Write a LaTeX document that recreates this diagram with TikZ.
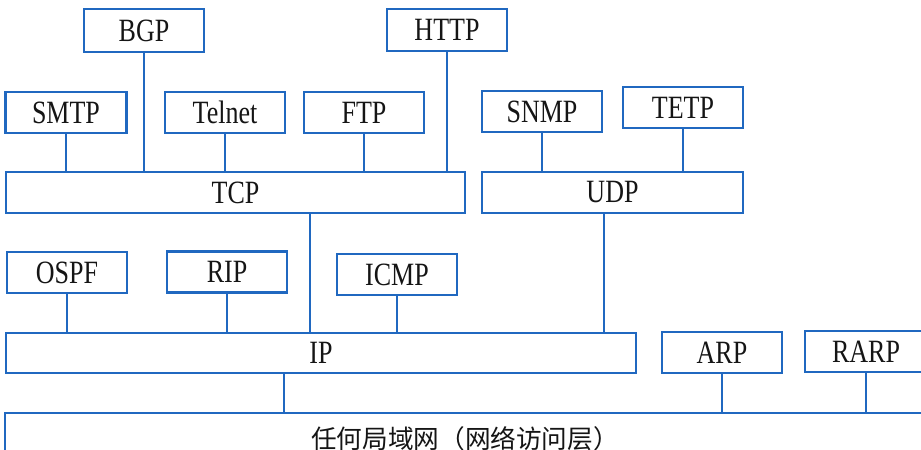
\documentclass[tikz,border=0pt]{standalone}
\usepackage{fontspec}
\setmainfont{Liberation Serif}[FakeStretch=0.8]
\newfontfamily\cjk{Noto Sans CJK SC}
\usepackage{xcolor}
\definecolor{proto-blue}{HTML}{2068C0}
\definecolor{proto-text}{HTML}{151515}
\usepackage{tikz}

\tikzset{
    proto/.style={draw=proto-blue, line width=1.2pt, fill=white, inner sep=0pt,
        text=proto-text, font=\fontsize{18.5}{20}\selectfont,
        minimum width=2.4cm, minimum height=0.82cm},
    link/.style={draw=proto-blue, line width=1.2pt}
}

\begin{document}
\begin{tikzpicture}[x=0.02cm, y=-0.02cm]

    % Frame
    \useasboundingbox (0, 0) rectangle (921, 450);
    \clip (0, 0) rectangle (921, 450);

    % Application layer
    \node[proto, minimum height=0.86cm] (bgp) at (144, 30.5) {BGP};
    \node[proto, minimum height=0.84cm] (http) at (447, 30) {HTTP};
    \node[proto, minimum width=2.42cm] (smtp) at (66, 112.5) {SMTP};
    \node[proto] (telnet) at (225, 112.5) {Telnet};
    \node[proto] (ftp) at (364, 112.5) {FTP};
    \node[proto] (snmp) at (542, 111.5) {SNMP};
    \node[proto] (tetp) at (683, 107.5) {TETP};

    % Transport layer
    \node[proto, minimum width=9.18cm] (tcp) at (235.5, 192.5) {TCP};
    \node[proto, minimum width=5.22cm] (udp) at (612.5, 192.5) {UDP};

    % Routing
    \node[proto] (ospf) at (67, 272.5) {OSPF};
    \node[proto] (rip) at (227, 272) {RIP};
    \node[proto] (icmp) at (397, 274.5) {ICMP};

    % Network layer
    \node[proto, minimum width=12.6cm, minimum height=0.8cm] (ip) at (321, 353) {IP};
    \node[proto] (arp) at (722, 352.5) {ARP};
    \node[proto, minimum width=2.44cm] (rarp) at (866, 351.5) {RARP};

    % Link layer
    \node[proto, minimum width=18.4cm, minimum height=1.04cm] (lan) at (465, 439)
        {\cjk\fontsize{14.6}{16}\selectfont 任何局域网（网络访问层）};

    % Links
    \draw[link] (bgp) -- (bgp |- tcp.north);
    \draw[link] (http) -- (http |- tcp.north);
    \draw[link] (smtp) -- (smtp |- tcp.north);
    \draw[link] (telnet) -- (telnet |- tcp.north);
    \draw[link] (ftp) -- (ftp |- tcp.north);
    \draw[link] (snmp) -- (snmp |- udp.north);
    \draw[link] (tetp) -- (tetp |- udp.north);
    \draw[link] ([xshift=1.49cm]tcp.south) -- ([xshift=1.49cm]tcp.south |- ip.north);
    \draw[link] ([xshift=-0.17cm]udp.south) -- ([xshift=-0.17cm]udp.south |- ip.north);
    \draw[link] (ospf) -- (ospf |- ip.north);
    \draw[link] (rip) -- (rip |- ip.north);
    \draw[link] (icmp) -- (icmp |- ip.north);
    \draw[link] ([xshift=-0.74cm]ip.south) -- ([xshift=-0.74cm]ip.south |- lan.north);
    \draw[link] (arp) -- (arp |- lan.north);
    \draw[link] (rarp) -- (rarp |- lan.north);

\end{tikzpicture}
\end{document}
